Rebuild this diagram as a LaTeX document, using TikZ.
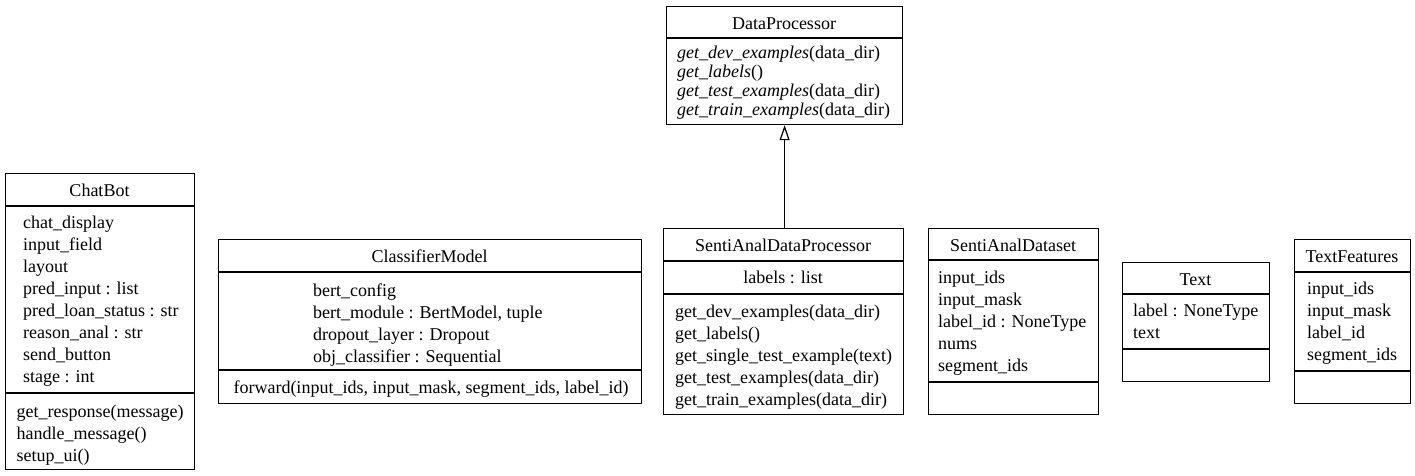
\documentclass[tikz,border=0pt]{standalone}
\usepackage{fontspec}
\setmainfont{Liberation Serif}
\usetikzlibrary{arrows.meta}
\newcommand\umlsz{\fontsize{18}{22}\selectfont}
\newcommand\mkbox[5]{\node[boxst, anchor=north west, minimum width={#4-#2}, minimum height={#5-#3}] (#1) at (#2,#3) {};}
\newcommand\mksep[3]{\draw[boxline] (#1,#3) -- (#2,#3);}
\begin{document}
\begin{tikzpicture}[x=1pt,y=-1pt,
  boxline/.style={line width=1.2pt, draw=black},
  boxst/.style={draw=black, line width=1.2pt, inner sep=0pt},
  ttl/.style={anchor=base, inner sep=0pt, font=\umlsz},
  tl/.style={anchor=base west, inner sep=0pt, font=\umlsz},
  inh/.style={line width=1.2pt, -{Triangle[open, length=15pt, width=10pt, line width=1.2pt]}}]
\fill[white] (0,0) rectangle (1415,475);
\useasboundingbox (0,0) rectangle (1415,475);

% DataProcessor
\mkbox{dp}{666}{6}{902}{124}
\mksep{666}{902}{38}
\node[ttl] (dp-t) at (784,29.5) {DataProcessor};
\foreach \t [count=\i] in {{\textit{get\_dev\_examples}(data\_dir)},{\textit{get\_labels}()},{\textit{get\_test\_examples}(data\_dir)},{\textit{get\_train\_examples}(data\_dir)}}
  \node[tl] (dp-m\i) at (677,{58+19.33*(\i-1)}) {\t};

% ChatBot
\mkbox{cb}{5}{173}{194}{469}
\mksep{5}{194}{206}
\mksep{5}{194}{393}
\node[ttl] (cb-t) at (99.5,196.5) {ChatBot};
\foreach \t [count=\i] in {{chat\_display},{input\_field},{layout},{pred\_input : list},{pred\_loan\_status : str},{reason\_anal : str},{send\_button},{stage : int}}
  \node[tl] (cb-a\i) at (23,{228.5+22*(\i-1)}) {\t};
\foreach \t [count=\i] in {{get\_response(message)},{handle\_message()},{setup\_ui()}}
  \node[tl] (cb-m\i) at (16.5,{417+22*(\i-1)}) {\t};

% ClassifierModel
\mkbox{cm}{218}{239}{641}{403}
\mksep{218}{641}{272}
\mksep{218}{641}{370}
\node[ttl] (cm-t) at (429.5,262.5) {ClassifierModel};
\foreach \t [count=\i] in {{bert\_config},{bert\_module : BertModel, tuple},{dropout\_layer : Dropout},{obj\_classifier : Sequential}}
  \node[tl] (cm-a\i) at (313,{296+22*(\i-1)}) {\t};
\node[ttl] (cm-m1) at (431,393.5) {forward(input\_ids, input\_mask, segment\_ids, label\_id)};

% SentiAnalDataProcessor
\mkbox{sadp}{663}{228}{903}{414}
\mksep{663}{903}{261}
\mksep{663}{903}{294}
\node[ttl] (sadp-t) at (783,251) {SentiAnalDataProcessor};
\node[ttl] (sadp-a1) at (783,283.5) {labels : list};
\foreach \t [count=\i] in {{get\_dev\_examples(data\_dir)},{get\_labels()},{get\_single\_test\_example(text)},{get\_test\_examples(data\_dir)},{get\_train\_examples(data\_dir)}}
  \node[tl] (sadp-m\i) at (675,{317+22*(\i-1)}) {\t};

% SentiAnalDataset
\mkbox{sads}{928}{228}{1098}{414}
\mksep{928}{1098}{260}
\mksep{928}{1098}{382}
\node[ttl] (sads-t) at (1013,251) {SentiAnalDataset};
\foreach \t [count=\i] in {{input\_ids},{input\_mask},{label\_id : NoneType},{nums},{segment\_ids}}
  \node[tl] (sads-a\i) at (938,{283+22*(\i-1)}) {\t};

% Text
\mkbox{tx}{1122}{262}{1269}{381}
\mksep{1122}{1269}{294}
\mksep{1122}{1269}{349}
\node[ttl] (tx-t) at (1195.5,285.5) {Text};
\foreach \t [count=\i] in {{label : NoneType},{text}}
  \node[tl] (tx-a\i) at (1133,{316.5+22*(\i-1)}) {\t};

% TextFeatures
\mkbox{tf}{1294}{239}{1410}{403}
\mksep{1294}{1410}{272}
\mksep{1294}{1410}{371}
\node[ttl] (tf-t) at (1352,262.5) {TextFeatures};
\foreach \t [count=\i] in {{input\_ids},{input\_mask},{label\_id},{segment\_ids}}
  \node[tl] (tf-a\i) at (1307,{294.5+22*(\i-1)}) {\t};

% inheritance
\draw[inh] (sadp.north -| dp.south) -- (dp.south);
\end{tikzpicture}
\end{document}
